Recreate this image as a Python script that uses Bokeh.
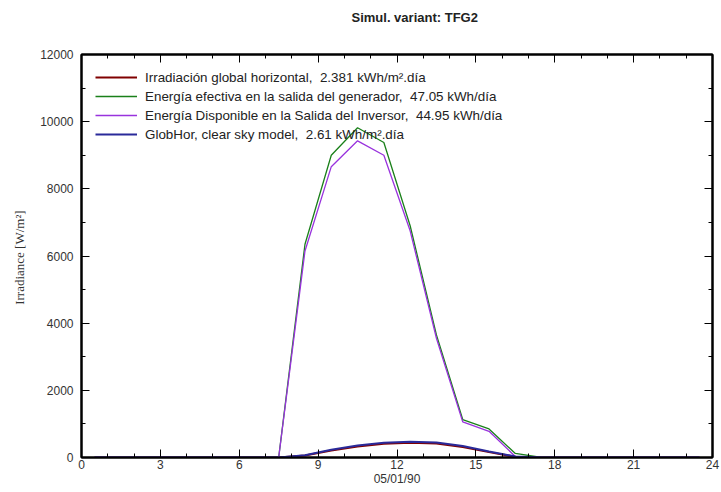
from bokeh.plotting import figure
from bokeh.models import Range1d, SingleIntervalTicker, LinearAxis, Legend, LegendItem
from bokeh.embed import file_html
from bokeh.resources import INLINE

# ---- data (hourly values, plotted at mid-hour) ----
hours = [h + 0.5 for h in range(24)]
glob_hor = [0, 0, 0, 0, 0, 0, 0, 0, 60, 210, 330, 410, 440, 420, 310, 160, 20, 0, 0, 0, 0, 0, 0, 0]
e_array = [0, 0, 0, 0, 0, 0, 0, 0, 6350, 9000, 9820, 9380, 6900, 3650, 1130, 850, 120, 0, 0, 0, 0, 0, 0, 0]
e_out_inv = [0, 0, 0, 0, 0, 0, 0, 0, 6150, 8660, 9430, 9000, 6750, 3550, 1060, 780, 30, 0, 0, 0, 0, 0, 0, 0]
glob_clear = [0, 0, 0, 0, 0, 0, 0, 0, 70, 230, 360, 440, 470, 450, 340, 180, 30, 0, 0, 0, 0, 0, 0, 0]

labels = [
    "Irradiación global horizontal,  2.381 kWh/m².día",
    "Energía efectiva en la salida del generador,  47.05 kWh/día",
    "Energía Disponible en la Salida del Inversor,  44.95 kWh/día",
    "GlobHor, clear sky model,  2.61 kWh/m².día",
]
title_text = "Simul. variant: TFG2"
x_label = "05/01/90"
y_label = "Irradiance  [W/m²]"

FONT = "Liberation Sans"
TXT = "#333333"

p = figure(width=720, height=490, output_backend="svg", toolbar_location=None,
           x_range=Range1d(0, 24), y_range=Range1d(0, 12000),
           min_border_left=81, min_border_right=8, min_border_top=54, min_border_bottom=33,
           x_axis_location=None, y_axis_location=None)
p.grid.visible = False
p.outline_line_color = "black"
p.outline_line_width = 2
p.background_fill_color = "white"

# title: two blank trailing lines lift the text well above the frame
p.title.text = title_text + "\n \n "
p.title.text_font = FONT
p.title.text_font_size = "13px"
p.title.text_font_style = "bold"
p.title.text_color = "#222222"
p.title.text_line_height = 1.0
p.title.align = "left"
p.title.offset = 270
p.title.standoff = 0

def style_axis(ax, show_labels):
    ax.axis_line_color = "black"
    ax.axis_line_width = 2
    ax.major_tick_in = 8
    ax.major_tick_out = 0
    ax.minor_tick_in = 4
    ax.minor_tick_out = 0
    ax.major_tick_line_color = "black"
    ax.minor_tick_line_color = "black"
    ax.major_tick_line_width = 1
    ax.minor_tick_line_width = 1
    if show_labels:
        ax.major_label_text_font = FONT
        ax.major_label_text_font_size = "12px"
        ax.major_label_text_color = TXT
    else:
        ax.major_label_text_font_size = "0px"
        ax.major_label_text_color = None
        ax.major_label_standoff = 0

xt = SingleIntervalTicker(interval=3, num_minor_ticks=3)
yt = SingleIntervalTicker(interval=2000, num_minor_ticks=2)

xb = LinearAxis(ticker=xt, axis_label=x_label)
style_axis(xb, True)
xb.major_label_standoff = 2
xb.axis_label_standoff = 0
xb.axis_label_text_font = FONT
xb.axis_label_text_font_size = "12px"
xb.axis_label_text_font_style = "normal"
xb.axis_label_text_color = TXT
p.add_layout(xb, "below")

yl = LinearAxis(ticker=yt, axis_label=y_label)
style_axis(yl, True)
yl.major_label_standoff = 8
yl.axis_label_standoff = 10
yl.axis_label_text_font = "Liberation Serif"
yl.axis_label_text_font_size = "13px"
yl.axis_label_text_font_style = "normal"
yl.axis_label_text_color = TXT
p.add_layout(yl, "left")

xa = LinearAxis(ticker=SingleIntervalTicker(interval=3, num_minor_ticks=3))
style_axis(xa, False)
p.add_layout(xa, "above")

yr = LinearAxis(ticker=SingleIntervalTicker(interval=2000, num_minor_ticks=2))
style_axis(yr, False)
p.add_layout(yr, "right")

r1 = p.line(hours, glob_hor, line_color="#800000", line_width=2)
r2 = p.line(hours, e_array, line_color="#1a801a", line_width=1.3)
r3 = p.line(hours, e_out_inv, line_color="#9933dd", line_width=1.3)
r4 = p.line(hours, glob_clear, line_color="#2a2a9a", line_width=2)

legend = Legend(items=[LegendItem(label=l, renderers=[r]) for l, r in zip(labels, [r1, r2, r3, r4])],
                location=(14, 315))
legend.border_line_color = None
legend.background_fill_alpha = 0
legend.label_text_font = FONT
legend.label_text_font_size = "13.4px"
legend.label_text_color = "#222222"
legend.glyph_width = 42
legend.glyph_height = 16
legend.label_height = 16
legend.spacing = 3
legend.padding = 0
legend.margin = 0
legend.label_standoff = 8
p.add_layout(legend, "center")

open("out.html", "w").write(file_html(p, INLINE))
